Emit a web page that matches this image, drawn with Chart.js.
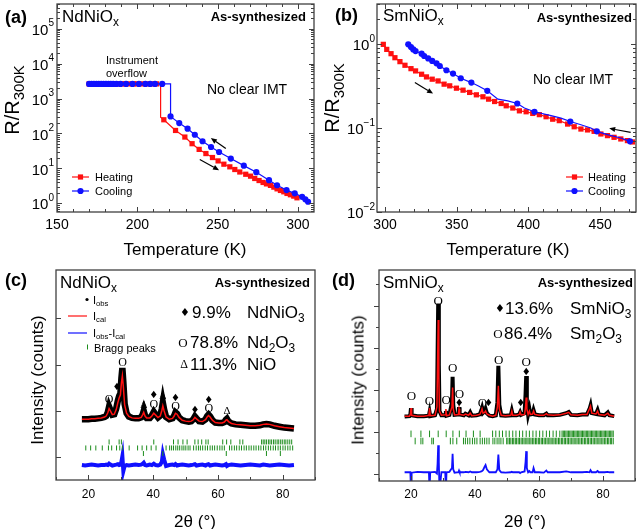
<!DOCTYPE html>
<html><head><meta charset="utf-8">
<script src="https://cdn.jsdelivr.net/npm/chart.js@4.4.1/dist/chart.umd.min.js"></script>
<style>
html,body{margin:0;padding:0;background:#fff;}
body{width:640px;height:529px;position:relative;overflow:hidden;font-family:"Liberation Sans",Arial,sans-serif;color:#000;}
canvas{position:absolute;}
.t{position:absolute;white-space:nowrap;line-height:1;}
.t sub{font-size:70%;position:relative;top:0.32em;vertical-align:baseline;line-height:0;}
.t.big sub{font-size:75%;}
</style></head><body>
<canvas id="ca" width="320" height="265" style="left:0;top:0"></canvas>
<canvas id="cb" width="320" height="265" style="left:320px;top:0"></canvas>
<canvas id="cc" width="320" height="264" style="left:0;top:265px"></canvas>
<canvas id="cd" width="320" height="264" style="left:320px;top:265px"></canvas>
<script>
// ---------------- (a) NdNiOx transport ----------------
const heatA_T = [170,172.5,175,177.5,180,182.5,185,187.5,190,192.5,195,197.5,200,203,206,209,212,
  216.5,223.8,229.6,234.1,238.5,242.7,246.8,250.3,253.9,257.6,260.7,263.8,267.5,270.5,273.1,275.8,278.3,280.4,282.9,285,287,289.1,291.2,293.2,295.3,297.4,299.4];
const heatA_R = [2630,2630,2630,2630,2630,2630,2630,2630,2630,2630,2630,2630,2630,2630,2630,2630,2630,
  247,122,79,51,35,26.6,20.5,16.4,13.2,11.1,9.3,7.9,6.8,6.0,5.15,4.5,3.96,3.6,3.26,2.91,2.6,2.34,2.14,1.92,1.76,1.61,1.44];
const heatAJump_T = [214.5,214.5];
const heatAJump_R = [2630,293];
const coolA_T = [170,171.5,173,174.5,176,177.5,179,180.5,182,183.5,185,187,189.5,193,197,201,205,208,211,215.5,
  220.7,226.1,231.3,235.8,240.6,245.9,250.9,258.2,266.3,274.1,282,287,292.9,298,302.6,304.6,306.3];
const coolA_R = [2630,2630,2630,2630,2630,2630,2630,2630,2630,2630,2630,2630,2630,2630,2630,2630,2630,2630,2630,2630,
  307,198,137,92,60,41,29.5,19.1,12.0,7.8,4.6,3.3,2.39,1.93,1.54,1.3,1.11];
const coolAJump_T = [220.7];
const coolAJump_R = [2630];
const arrowsA = [[255.1,36.9,245.8,74],[238.9,17.9,250.9,8.9]];
const tempTicksA = [150,200,250,300];
const expA = [0,1,2,3,4,5];

// ---------------- (b) SmNiOx transport ----------------
const heatB_T = [298.8,301.2,304.2,306.9,310.4,313.9,318.1,321.3,325.5,328.9,332.9,337,341.2,345.1,349.8,354.4,359,363.7,368.3,372.2,
  376.4,381,384.5,389.1,393.7,398.4,403,407.6,412.3,416.9,421.5,427.3,431.9,436.6,441.2,445.8,450.5,455.1,459.7,464.4,469,472.5];
const heatB_R = [1.0,0.871,0.774,0.693,0.622,0.563,0.513,0.482,0.44,0.409,0.384,0.366,0.335,0.32,0.3,0.284,0.267,0.25,0.237,0.222,
  0.208,0.197,0.185,0.174,0.161,0.157,0.15,0.145,0.137,0.128,0.123,0.112,0.104,0.0977,0.0953,0.0917,0.0853,0.0815,0.0778,0.0744,0.0711,0.0685];
const coolB_T = [316.2,318.1,319.7,321.3,325.5,327.3,330.1,332.9,335.9,338.2,342.8,347.4,352.8,360.2,371.3,392.2,404.2,429.2,447.7,470.8];
const coolB_R = [1.0,0.929,0.871,0.832,0.774,0.726,0.68,0.634,0.594,0.552,0.491,0.448,0.394,0.35,0.279,0.197,0.157,0.12,0.0916,0.0697];
const coolBLine_T = [364.8,378.7,385.6,397.2,415.8,422.7,436.6,443.5,455.1,464.4];
const coolBLine_R = [0.32,0.222,0.212,0.174,0.141,0.132,0.110,0.1005,0.0838,0.0764];
const arrowsB = [[320.8,0.35,333.5,0.259],[471.3,0.089,456.3,0.0995]];
const tempTicksB = [300,350,400,450];
const expB = [-2,-1,0];

// ---------------- (c) NdNiOx XRD ----------------
const twoThetaC = [18,19,20,21,22,23,24,25,25.5,26.0,
  26.4,26.8,27.4,28.0,28.6,29.1,29.5,29.9,30.2,30.5,
  30.8,31.2,31.8,32.5,33.5,34.5,35.5,36.3,36.8,37.1,
  37.5,38.0,39.0,39.6,40.2,40.8,41.5,42.2,42.7,43.0,
  43.4,44.0,45.0,46.0,46.5,46.9,47.4,48.0,49.0,50.0,
  51.0,51.8,52.4,52.9,53.4,54.2,55.2,56.2,56.7,57.1,
  57.6,58.3,59.2,60.3,61.3,62.0,62.5,62.8,63.3,64.2,
  65.5,67.0,68.5,70.0,71.5,73.0,74.0,75.0,76.0,77.5,
  79.0,80.5,82.0,83.5];
const obsC = [0.82,0.82,0.82,0.83,0.83,0.84,0.85,0.87,0.89,0.97,
  1.09,1.02,0.92,0.93,1.05,1.22,1.32,1.38,1.70,1.93,
  1.62,1.15,0.95,0.88,0.85,0.84,0.84,0.86,0.93,1.00,
  0.90,0.85,0.85,0.90,0.98,0.92,0.86,0.90,1.05,1.18,
  1.03,0.87,0.82,0.84,0.90,0.97,0.94,0.86,0.80,0.78,
  0.77,0.78,0.82,0.88,0.84,0.78,0.77,0.82,0.89,0.92,
  0.88,0.80,0.75,0.74,0.74,0.76,0.81,0.83,0.77,0.73,
  0.71,0.70,0.69,0.68,0.68,0.69,0.71,0.72,0.71,0.68,
  0.66,0.64,0.63,0.62];
const calC = [0.82,0.82,0.82,0.83,0.83,0.84,0.85,0.87,0.89,0.96,
  1.05,1.00,0.92,0.93,1.03,1.18,1.28,1.35,1.60,1.76,
  1.52,1.13,0.95,0.88,0.85,0.84,0.84,0.86,0.92,0.97,
  0.89,0.85,0.85,0.89,0.95,0.91,0.86,0.89,1.01,1.11,
  1.00,0.87,0.82,0.84,0.89,0.95,0.93,0.86,0.80,0.78,
  0.77,0.78,0.81,0.86,0.83,0.78,0.77,0.81,0.87,0.90,
  0.87,0.80,0.75,0.74,0.74,0.76,0.80,0.81,0.77,0.73,
  0.71,0.70,0.69,0.68,0.68,0.69,0.71,0.72,0.71,0.68,
  0.66,0.64,0.63,0.62];
const diffC = [-0.17,-0.18,-0.17,-0.16,-0.17,-0.18,-0.17,-0.17,-0.16,-0.17,
  -0.14,-0.16,-0.18,-0.17,-0.16,-0.15,-0.17,-0.16,-0.10,0.02,
  -0.30,-0.19,-0.17,-0.18,-0.17,-0.16,-0.17,-0.16,-0.14,-0.12,
  -0.17,-0.18,-0.16,-0.17,-0.14,-0.17,-0.18,-0.16,-0.10,0.07,
  -0.05,-0.19,-0.17,-0.16,-0.17,-0.15,-0.18,-0.17,-0.16,-0.17,
  -0.18,-0.17,-0.16,-0.15,-0.18,-0.17,-0.16,-0.18,-0.16,-0.15,
  -0.18,-0.17,-0.16,-0.17,-0.18,-0.17,-0.15,-0.19,-0.17,-0.16,
  -0.17,-0.18,-0.17,-0.16,-0.17,-0.18,-0.16,-0.17,-0.18,-0.17,
  -0.16,-0.17,-0.18,-0.17];
const braggC1 = [26.4,29.5,30.2,40.2,46.3,47.7,49.2,50.5,52.9,53.9,55.0,56.3,57.0,61.5,62.7,64.0,66.8,67.7,
  73.5,74.0,74.5,75.0,75.6,76.1,76.6,77.2,77.7,78.3,78.8,79.4,79.9,80.5,81.0,81.6,82.2,82.8];
const braggC2 = [19.2,20.7,22.3,24.3,26.2,27.2,28.7,29.7,30.5,32.6,35.2,36.6,38.0,39.4,40.9,44.0,45.1,45.7,46.3,47.0,
  47.6,48.2,48.9,49.5,50.1,50.8,51.4,52.5,53.3,54.0,54.6,55.3,56.1,56.8,57.6,58.3,59.0,59.8,60.6,61.3,
  62.0,63.6,64.3,65.1,65.8,66.6,67.3,68.1,68.8,69.6,70.3,71.1,71.8,72.6,73.3,74.1,74.8,75.6,76.3,77.1,
  77.8,78.6,79.3,80.1,80.8,81.6,82.3,83.1];
const braggC3 = [37.0,43.0,62.6,75.0,79.3];
const braggRowsC = [0.33,0.20,0.08];
const peakMarksC = [[26.4,1.235,'O'],[28.8,1.5,'♦'],[30.6,2.04,'O'],[37.1,1.13,'Δ'],[40.2,1.13,'O'],[40.2,1.34,'♦'],
  [43.0,1.33,'Δ'],[46.9,1.27,'♦'],[46.9,1.08,'O'],[52.9,1.02,'♦'],[57.2,1.22,'♦'],[57.2,1.04,'O'],[62.8,1.0,'Δ']];
const angleTicks = [20,40,60,80];
const yTicksC = [0,1,2,3];

// ---------------- (d) SmNiOx XRD ----------------
const twoThetaD = [18.0,19.5,19.8,20.0,20.2,22.0,24.0,25.6,25.8,26.0,
  27.5,28.1,28.3,28.5,28.7,28.9,29.5,30.7,30.9,31.1,
  32.0,32.8,33.0,33.2,33.6,34.8,35.0,35.2,36.5,37.0,
  38.0,38.5,39.0,40.5,41.5,42.0,42.2,42.5,43.0,43.3,
  43.7,44.5,45.5,46.5,47.0,47.3,47.6,48.2,49.5,51.2,
  51.5,51.8,53.0,53.8,54.1,54.4,55.5,55.8,56.0,56.2,
  56.6,57.0,57.3,58.0,58.3,58.7,60.0,61.5,62.3,62.7,
  64.5,66.5,68.5,69.3,70.0,72.0,73.5,75.0,75.8,76.1,
  76.5,77.8,78.3,78.7,80.5,81.5,82.0,83.5];
const obsD = [1.37,1.38,1.42,1.57,1.40,1.38,1.38,1.39,1.47,1.38,
  1.40,1.55,2.80,4.05,2.60,1.50,1.40,1.40,1.50,1.39,
  1.41,1.70,2.31,1.65,1.41,1.42,1.59,1.42,1.40,1.44,
  1.40,1.47,1.39,1.40,1.42,1.52,1.57,1.46,1.50,1.55,
  1.45,1.39,1.38,1.40,1.70,2.57,1.65,1.40,1.39,1.40,
  1.50,1.40,1.40,1.42,1.47,1.41,1.45,1.90,2.33,1.70,
  1.42,1.55,1.42,1.43,1.52,1.42,1.40,1.40,1.44,1.40,
  1.40,1.41,1.45,1.48,1.41,1.40,1.42,1.42,1.55,1.63,
  1.45,1.43,1.52,1.42,1.40,1.47,1.40,1.38];
const calD = [1.38,1.38,1.42,1.57,1.40,1.38,1.38,1.40,1.57,1.39,
  1.40,1.60,2.60,3.66,2.30,1.50,1.40,1.41,1.55,1.39,
  1.41,1.60,2.06,1.55,1.41,1.42,1.55,1.42,1.40,1.43,
  1.40,1.45,1.39,1.40,1.42,1.50,1.55,1.45,1.47,1.50,
  1.43,1.40,1.38,1.40,1.60,2.10,1.55,1.40,1.39,1.40,
  1.50,1.40,1.40,1.42,1.48,1.41,1.42,1.60,1.82,1.55,
  1.42,1.50,1.42,1.43,1.50,1.42,1.40,1.40,1.44,1.41,
  1.40,1.41,1.45,1.47,1.41,1.40,1.42,1.42,1.56,1.62,
  1.45,1.43,1.50,1.42,1.40,1.45,1.40,1.38];
const diffD = [0.05,0.05,0.05,-0.40,0.04,0.06,0.05,0.05,-0.40,0.05,
  0.06,0.02,0.25,0.69,0.30,-0.40,0.05,0.05,-0.40,0.05,
  0.06,0.15,0.49,0.12,0.04,0.05,0.09,0.05,0.05,0.06,
  0.05,0.07,0.05,0.05,0.06,0.07,0.08,0.10,0.18,0.22,
  0.12,0.05,0.05,0.05,0.12,0.47,0.10,0.05,0.04,0.05,
  0.06,0.05,0.05,0.05,0.03,0.05,0.07,0.30,0.55,0.15,
  0.05,0.08,0.05,0.05,0.15,0.05,0.05,0.04,0.09,0.05,
  0.05,0.05,0.07,0.06,0.05,0.05,0.05,0.06,0.05,0.10,
  0.05,0.05,0.08,0.05,0.05,0.06,0.05,0.05];
const braggD1 = [20.0,23.1,25.8,28.5,31.0,33.1,35.1,37.2,39.5,41.6,45.5,46.5,47.6,48.6,49.7,50.7,51.8,52.8,53.9,54.9,
  56.0,57.0,58.1,59.1,60.2,61.2,62.3,63.3,64.4,65.4,66.5,67.2,67.6,68.0,68.4,68.8,69.2,69.6,70.0,70.4,
  70.8,71.2,71.6,72.0,72.4,72.8,73.2,73.6,74.0,74.4,74.8,75.2,75.6,76.0,76.4,76.8,77.2,77.6,78.0,78.4,
  78.8,79.2,79.6,80.0,80.4,80.8,81.2,81.6,82.0,82.4,82.8,83.2];
const braggD2 = [21.3,23.1,23.7,26.5,27.0,32.3,33.1,34.3,36.4,37.0,37.7,38.4,39.2,39.9,40.6,41.6,42.3,43.0,43.7,44.4,
  45.6,46.2,46.9,47.5,48.1,48.8,49.9,50.3,50.8,51.2,51.7,52.1,52.6,53.0,53.5,53.9,54.4,54.8,55.3,55.7,
  56.2,56.6,57.1,57.5,58.0,58.4,58.9,59.3,59.8,60.2,60.7,61.1,61.6,62.0,62.5,62.9,63.4,63.8,64.3,64.7,
  65.2,65.6,66.1,66.5,67.0,67.4,67.9,68.3,68.8,69.2,69.7,70.1,70.6,71.0,71.5,71.9,72.4,72.8,73.3,73.7,
  74.2,74.6,75.1,75.5,76.0,76.4,76.9,77.3,77.8,78.2,78.7,79.1,79.6,80.0,80.5,80.9,81.4,81.8,82.3,82.7,83.2];
const braggRowsD = [0.96,0.79];
const peakMarksD = [[20.1,1.84,'O'],[25.8,1.72,'O'],[28.5,4.09,'O'],[31.0,1.76,'O'],[33.0,2.50,'O'],[35.1,1.90,'O'],
  [35.1,1.67,'♦'],[42.3,1.68,'O'],[44.2,1.67,'♦'],[47.4,2.70,'O'],[54.3,1.67,'♦'],[56.0,2.64,'O'],[56.0,2.42,'♦']];
const yTicksD = [0,1,2,3,4];

// ---------------- helpers ----------------
const RED='#ff1010', BLUE='#1010ff', GREEN='#1b8c1b', FRAME='#404040';
const pts=(X,Y)=>X.map((x,i)=>({x:x,y:Y[i]}));
const merge=(X1,Y1,X2,Y2)=>pts(X1,Y1).concat(pts(X2,Y2)).sort((a,b)=>(a.x-b.x)||(b.y-a.y));
const rowPts=(X,v)=>X.map(x=>({x:x,y:v}));
const range=(a,b,s)=>{const r=[];for(let v=a;v<=b+1e-9;v+=s)r.push(+v.toFixed(6));return r;};
const logMinor=(lo,hi)=>{const r=[];for(let e=Math.floor(Math.log10(lo));e<=Math.ceil(Math.log10(hi));e++)for(let k=2;k<=9;k++){const v=k*Math.pow(10,e);if(v>lo&&v<hi)r.push(v);}return r;};

const deco={
  id:'deco',
  afterDatasetsDraw(chart,args,o){
    const ctx=chart.ctx,a=chart.chartArea,X=chart.scales.x,Y=chart.scales.y;
    ctx.save();
    (o.marks||[]).forEach(([x,y,s])=>{
      ctx.fillStyle='#000';ctx.textAlign='center';ctx.textBaseline='middle';
      ctx.font = s==='O'?o.oFont:(s==='♦'?o.dFont:o.tFont);
      ctx.fillText(s,X.getPixelForValue(x),Y.getPixelForValue(y));
    });
    (o.arrows||[]).forEach(([x1,y1,x2,y2])=>{
      const ax=X.getPixelForValue(x1),ay=Y.getPixelForValue(y1),bx=X.getPixelForValue(x2),by=Y.getPixelForValue(y2);
      const an=Math.atan2(by-ay,bx-ax),hl=6,hw=2.6,c=Math.cos(an),s=Math.sin(an);
      ctx.strokeStyle='#000';ctx.fillStyle='#000';ctx.lineWidth=1.2;
      ctx.beginPath();ctx.moveTo(ax,ay);ctx.lineTo(bx-c*hl,by-s*hl);ctx.stroke();
      ctx.beginPath();ctx.moveTo(bx,by);ctx.lineTo(bx-c*hl-s*hw,by-s*hl+c*hw);ctx.lineTo(bx-c*hl+s*hw,by-s*hl-c*hw);ctx.closePath();ctx.fill();
    });
    ctx.strokeStyle=FRAME;ctx.lineWidth=1.3;
    ctx.strokeRect(a.left,a.top,a.right-a.left,a.bottom-a.top);
    ctx.lineWidth=1;
    const ln=(x1,y1,x2,y2)=>{ctx.beginPath();ctx.moveTo(x1,y1);ctx.lineTo(x2,y2);ctx.stroke();};
    const xt=(v,l)=>{const p=Math.round(X.getPixelForValue(v))+0.5;ln(p,a.bottom,p,a.bottom-l);if(o.mirror)ln(p,a.top,p,a.top+l);};
    const yt=(v,l)=>{const p=Math.round(Y.getPixelForValue(v))+0.5;ln(a.left,p,a.left+l*o.ydir,p);if(o.mirror)ln(a.right,p,a.right-l,p);};
    o.xMajor.forEach(v=>xt(v,5));(o.xMinor||[]).forEach(v=>xt(v,3));
    (o.yMajor||[]).forEach(v=>yt(v,5));(o.yMinor||[]).forEach(v=>yt(v,3));
    ctx.fillStyle='#000';ctx.textBaseline='middle';ctx.textAlign='center';ctx.font=o.xFont;
    o.xMajor.forEach(v=>ctx.fillText(String(v),X.getPixelForValue(v),o.xLabY));
    (o.yExp||[]).forEach(e=>{
      const py=Y.getPixelForValue(Math.pow(10,e)),r=a.left-o.yGap,es=String(e).replace('-','−');
      ctx.textAlign='right';ctx.font=o.eFont;ctx.fillText(es,r,py-5);
      const w=ctx.measureText(es).width;
      ctx.font=o.yFont;ctx.fillText('10',r-w,py+2);
    });
    (o.legend||[]).forEach(g=>{
      if(g.line){ctx.strokeStyle=g.color;ctx.lineWidth=1.2;ln(g.x1,g.y,g.x2,g.y);}
      const cx=(g.x1+g.x2)/2;ctx.fillStyle=g.color;ctx.strokeStyle=g.color;
      if(g.m==='rect'){ctx.fillRect(cx-2.6,g.y-2.6,5.2,5.2);}
      else if(g.m==='circle'){ctx.beginPath();ctx.arc(cx,g.y,3.1,0,Math.PI*2);ctx.fill();}
      else if(g.m==='dot'){ctx.beginPath();ctx.arc(g.x2,g.y,1.6,0,Math.PI*2);ctx.fill();}
      else if(g.m==='tick'){ctx.lineWidth=1;ln(g.x2+0.5,g.y-2.5,g.x2+0.5,g.y+2.5);}
    });
    ctx.restore();
  }
};
Chart.register(deco);

function opts(c){
  return {responsive:false,animation:false,devicePixelRatio:1,
    layout:{padding:c.pad},
    plugins:{legend:{display:false},tooltip:{enabled:false},deco:c.deco},
    scales:{x:{type:'linear',min:c.xmin,max:c.xmax,display:false},
            y:{type:c.ylog?'logarithmic':'linear',min:c.ymin,max:c.ymax,display:false}}};
}
const lineDs=(data,color,w,order)=>({data,borderColor:color,backgroundColor:color,borderWidth:w,pointRadius:0,order});
const markDs=(data,color,style,r,order)=>({data,showLine:false,pointStyle:style,pointRadius:r,pointBackgroundColor:color,pointBorderColor:color,pointBorderWidth:0,order});
const tickDs=(data,len,order)=>({data,showLine:false,pointStyle:'line',rotation:90,pointRadius:len,pointBorderColor:GREEN,pointBackgroundColor:GREEN,pointBorderWidth:1,order});

new Chart(document.getElementById('ca'),{type:'line',
  data:{datasets:[
    markDs(pts(coolA_T,coolA_R),BLUE,'circle',3.1,0),
    lineDs(merge(coolA_T,coolA_R,coolAJump_T,coolAJump_R),BLUE,1.2,1),
    markDs(pts(heatA_T,heatA_R),RED,'rect',3.7,2),
    lineDs(merge(heatA_T,heatA_R,heatAJump_T,heatAJump_R),RED,1.2,3)]},
  options:opts({pad:{left:57,right:6,top:3,bottom:53},xmin:150,xmax:310,ylog:true,ymin:0.565,ymax:5.09e5,
    deco:{arrows:arrowsA,mirror:true,ydir:1,xMajor:tempTicksA,xMinor:range(160,300,10).filter(v=>v%50),
      yMajor:expA.map(e=>Math.pow(10,e)),yMinor:logMinor(0.565,5.09e5),yExp:expA,
      xFont:'14px "Liberation Sans"',xLabY:225,yFont:'15px "Liberation Sans"',eFont:'10px "Liberation Sans"',yGap:3,
      legend:[{x1:72,x2:89,y:177,color:RED,line:true,m:'rect'},{x1:72,x2:89,y:191,color:BLUE,line:true,m:'circle'}]}})});

new Chart(document.getElementById('cb'),{type:'line',
  data:{datasets:[
    markDs(pts(coolB_T,coolB_R),BLUE,'circle',3.1,0),
    lineDs(merge(coolB_T,coolB_R,coolBLine_T,coolBLine_R),BLUE,1.2,1),
    markDs(pts(heatB_T,heatB_R),RED,'rect',3.7,2),
    lineDs(pts(heatB_T,heatB_R),RED,1.2,3)]},
  options:opts({pad:{left:57,right:3,top:3,bottom:53},xmin:294.4,xmax:475,ylog:true,ymin:0.01,ymax:3.03,
    deco:{arrows:arrowsB,mirror:true,ydir:1,xMajor:tempTicksB,xMinor:range(300,470,10).filter(v=>v%50),
      yMajor:expB.map(e=>Math.pow(10,e)),yMinor:logMinor(0.01,3.03),yExp:expB,
      xFont:'14px "Liberation Sans"',xLabY:225,yFont:'15px "Liberation Sans"',eFont:'10px "Liberation Sans"',yGap:2,
      legend:[{x1:246,x2:263,y:177,color:RED,line:true,m:'rect'},{x1:246,x2:263,y:191,color:BLUE,line:true,m:'circle'}]}})});

new Chart(document.getElementById('cc'),{type:'line',
  data:{datasets:[
    lineDs(pts(twoThetaC,calC),RED,1.5,0),
    lineDs(pts(twoThetaC,obsC),'#000',6.5,1),
    tickDs(rowPts(braggC1,braggRowsC[0]),2.5,2),
    tickDs(rowPts(braggC2,braggRowsC[1]),2.5,3),
    tickDs(rowPts(braggC3,braggRowsC[2]),2.5,4),
    lineDs(pts(twoThetaC,diffC),BLUE,4,5)]},
  options:opts({pad:{left:56,right:5,top:3,bottom:49},xmin:10,xmax:90,ylog:false,ymin:-0.4925,ymax:4.047,
    deco:{marks:peakMarksC,oFont:'12px "Liberation Serif"',dFont:'10px "DejaVu Sans"',tFont:'11px "Liberation Serif"',
      mirror:false,ydir:1,xMajor:angleTicks,xMinor:[10,30,50,70,90],yMajor:yTicksC,
      xFont:'12px "Liberation Sans"',xLabY:230,
      legend:[{x1:68,x2:87,y:34.5,color:'#000',line:false,m:'dot'},{x1:68,x2:87,y:51,color:RED,line:true},
              {x1:68,x2:87,y:68,color:BLUE,line:true},{x1:68,x2:87,y:82,color:GREEN,line:false,m:'tick'}]}})});

new Chart(document.getElementById('cd'),{type:'line',
  data:{datasets:[
    lineDs(pts(twoThetaD,calD),RED,1.5,0),
    lineDs(pts(twoThetaD,obsD),'#000',4,1),
    tickDs(rowPts(braggD1,braggRowsD[0]),3.3,2),
    tickDs(rowPts(braggD2,braggRowsD[1]),3.3,3),
    lineDs(pts(twoThetaD,diffD),BLUE,1.8,4)]},
  options:opts({pad:{left:59,right:3,top:3,bottom:48},xmin:10,xmax:90,ylog:false,ymin:-0.157,ymax:4.843,
    deco:{marks:peakMarksD,oFont:'13px "Liberation Serif"',dFont:'10px "DejaVu Sans"',tFont:'11px "Liberation Serif"',
      mirror:false,ydir:-1,xMajor:angleTicks,xMinor:[10,30,50,70,90],yMajor:yTicksD,yMinor:[0.5,1.5,2.5,3.5,4.5],
      xFont:'12px "Liberation Sans"',xLabY:230}})});

function T(x,y,html,css,anchor,rot,cls){
  const d=document.createElement('div');d.className='t'+(cls?' '+cls:'');d.innerHTML=html;d.style.cssText+=css||'';
  d.style.left=x+'px';d.style.top=y+'px';
  let tr=anchor==='c'?'translate(-50%,-50%)':anchor==='r'?'translate(-100%,-50%)':'translate(0,-50%)';
  if(rot)tr+=' rotate(-90deg)';
  d.style.transform=tr;document.body.appendChild(d);
}
const B='font-weight:bold;';
// (a)
T(5,17,'(a)',B+'font-size:18px;');
T(62,16,'NdNiO<sub>x</sub>','font-size:17px;');
T(306,16,'As-synthesized',B+'font-size:13px;','r');
T(106,60,'Instrument','font-size:11px;');
T(106,73,'overflow','font-size:11px;');
T(207,89,'No clear IMT','font-size:14px;');
T(95,177,'Heating','font-size:11px;');
T(95,191,'Cooling','font-size:11px;');
T(185,249,'Temperature (K)','font-size:17px;','c');
T(12,100,'R/R<sub>300K</sub>','font-size:20px;','c',true,'big');
// (b)
T(335,15,'(b)',B+'font-size:18px;');
T(383,15,'SmNiO<sub>x</sub>','font-size:17px;');
T(632,17,'As-synthesized',B+'font-size:13px;','r');
T(533,79,'No clear IMT','font-size:14px;');
T(588,177,'Heating','font-size:11px;');
T(588,191,'Cooling','font-size:11px;');
T(508,249,'Temperature (K)','font-size:17px;','c');
T(332,98,'R/R<sub>300K</sub>','font-size:20px;','c',true,'big');
// (c)
T(5,280,'(c)',B+'font-size:18px;');
T(60,282,'NdNiO<sub>x</sub>','font-size:17px;');
T(310,282,'As-synthesized',B+'font-size:13px;','r');
T(93,300,'I<sub>obs</sub>','font-size:11px;');
T(93,316,'I<sub>cal</sub>','font-size:11px;');
T(93,333,'I<sub>obs</sub>-I<sub>cal</sub>','font-size:11px;');
T(94,348,'Bragg peaks','font-size:11px;');
T(185,312,'♦','font-size:11px;font-family:"DejaVu Sans";','c');
T(192,312,'9.9%','font-size:17px;');
T(247,312,'NdNiO<sub>3</sub>','font-size:17px;');
T(183,342,'O','font-size:13px;font-family:"Liberation Serif";','c');
T(190,342,'78.8%','font-size:17px;');
T(247,342,'Nd<sub>2</sub>O<sub>3</sub>','font-size:17px;');
T(184,364,'Δ','font-size:12px;font-family:"Liberation Serif";','c');
T(190,364,'11.3%','font-size:17px;');
T(247,364,'NiO','font-size:17px;');
T(195,521,'2θ (°)','font-size:17px;','c');
T(37,380,'Intensity (counts)','font-size:17px;','c',true);
// (d)
T(332,280,'(d)',B+'font-size:18px;');
T(383,282,'SmNiO<sub>x</sub>','font-size:17px;');
T(633,282,'As-synthesized',B+'font-size:13px;','r');
T(500,308,'♦','font-size:11px;font-family:"DejaVu Sans";','c');
T(505,308,'13.6%','font-size:17px;');
T(570,308,'SmNiO<sub>3</sub>','font-size:17px;');
T(498,333,'O','font-size:13px;font-family:"Liberation Serif";','c');
T(504,333,'86.4%','font-size:17px;');
T(570,333,'Sm<sub>2</sub>O<sub>3</sub>','font-size:17px;');
T(525,521,'2θ (°)','font-size:17px;','c');
T(358,380,'Intensity (counts)','font-size:17px;','c',true);
</script>
</body></html>
